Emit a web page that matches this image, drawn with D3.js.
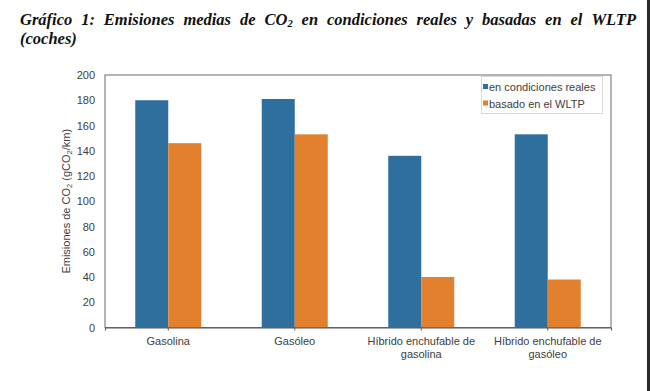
<!DOCTYPE html>
<html><head><meta charset="utf-8">
<script src="https://cdn.jsdelivr.net/npm/d3@7"></script>
<style>
html,body{margin:0;padding:0;background:#fff;}
svg{display:block;}
</style></head>
<body>
<svg id="chart" width="650" height="391"></svg>
<script>
const categories = [["Gasolina"], ["Gasóleo"], ["Híbrido enchufable de", "gasolina"], ["Híbrido enchufable de", "gasóleo"]];
const seriesNames = ["en condiciones reales", "basado en el WLTP"];
const realValues = [180, 181, 136, 153];
const wltpValues = [146, 153, 40, 38];
const yTicks = [0, 20, 40, 60, 80, 100, 120, 140, 160, 180, 200];
const colors = ["#2f6f9e", "#e2802e"];

const svg = d3.select("#chart");
const M = {left: 105, right: 611, top: 75, bottom: 327.5};

// right edge dark border of the page
svg.append("rect").attr("x", 647).attr("y", 0).attr("width", 3).attr("height", 391).attr("fill", "#2a2a2a");

// Title (justified, bold italic serif)
const titleFont = "bold italic 16.5px 'Liberation Serif', 'Times New Roman', serif";
const words = ["Gráfico", "1:", "Emisiones", "medias", "de", "CO₂", "en", "condiciones", "reales", "y", "basadas", "en", "el", "WLTP"];
const tg = svg.append("g").style("font", titleFont).attr("fill", "#111");
const wNodes = words.map(w => {
  const t = tg.append("text").attr("y", 25);
  if (w === "CO₂") {
    t.append("tspan").text("CO");
    t.append("tspan").text("2").attr("font-size", "10.5px").attr("dy", 2);
  } else t.text(w);
  return t;
});
const widths = wNodes.map(t => t.node().getComputedTextLength());
const total = d3.sum(widths);
const x0 = 20, x1 = 636;
const gap = (x1 - x0 - total) / (words.length - 1);
let cx = x0;
wNodes.forEach((t, i) => { t.attr("x", cx); cx += widths[i] + gap; });
tg.append("text").attr("x", 20).attr("y", 44).text("(coches)");

// Scales
const x = d3.scaleBand().domain(d3.range(categories.length)).range([M.left, M.right]).paddingInner(0).paddingOuter(0);
const bw = 33;
const y = d3.scaleLinear().domain([0, 200]).range([M.bottom, M.top]);

const textColor = "#404040";
const font = "'Liberation Sans', Arial, sans-serif";

// plot border
svg.append("rect").attr("x", M.left).attr("y", M.top).attr("width", M.right - M.left).attr("height", M.bottom - M.top)
  .attr("fill", "none").attr("stroke", "#6a6a6a").attr("stroke-width", 1);

// Bars
const series = [realValues, wltpValues];
series.forEach((vals, si) => {
  svg.append("g").selectAll("rect").data(vals).join("rect")
    .attr("x", (d, i) => x(i) + x.bandwidth() / 2 - bw + si * bw)
    .attr("y", d => y(d))
    .attr("width", bw)
    .attr("height", d => y(0) - y(d))
    .attr("fill", colors[si]);
});

// Y axis
const yAxis = d3.axisLeft(y).tickValues(yTicks).tickSize(0).tickPadding(10);
const yg = svg.append("g").attr("transform", `translate(${M.left},0)`).call(yAxis);
yg.select(".domain").remove();
yg.selectAll("text").attr("fill", textColor).style("font-family", font).style("font-size", "11px");

// X axis
const xAxis = d3.axisBottom(x).tickSize(3).tickFormat("");
const xg = svg.append("g").attr("transform", `translate(0,${M.bottom})`).call(xAxis);
xg.select(".domain").attr("stroke", "#595959");
xg.selectAll(".tick line").attr("stroke", "#595959");
xg.selectAll(".tick").each(function(d) {
  const t = d3.select(this).append("text").attr("fill", textColor).attr("text-anchor", "middle")
    .style("font-family", font).style("font-size", "11px");
  categories[d].forEach((line, li) => {
    t.append("tspan").attr("x", 0).attr("y", 17 + li * 13).text(line);
  });
});

// Y axis title
const yt = svg.append("text").attr("transform", `translate(70,${(M.top + M.bottom) / 2}) rotate(-90)`)
  .attr("text-anchor", "middle").attr("fill", textColor).style("font-family", font).style("font-size", "11px");
yt.append("tspan").text("Emisiones de CO");
yt.append("tspan").text("2").attr("font-size", "7.5px").attr("dy", 2);
yt.append("tspan").text(" (gCO").attr("dy", -2);
yt.append("tspan").text("2").attr("font-size", "7.5px").attr("dy", 2);
yt.append("tspan").text("/km)").attr("dy", -2);

// Legend
const lg = svg.append("g");
lg.append("rect").attr("x", 481.5).attr("y", 76.5).attr("width", 121).attr("height", 37)
  .attr("fill", "#fff").attr("stroke", "#d9d9d9");
seriesNames.forEach((n, i) => {
  const yy = 87 + i * 16.5;
  lg.append("rect").attr("x", 483).attr("y", yy - 3).attr("width", 5).attr("height", 5).attr("fill", colors[i]);
  lg.append("text").attr("x", 489).attr("y", yy + 4).text(n).attr("fill", textColor)
    .style("font-family", font).style("font-size", "11px");
});
</script>
</body></html>
